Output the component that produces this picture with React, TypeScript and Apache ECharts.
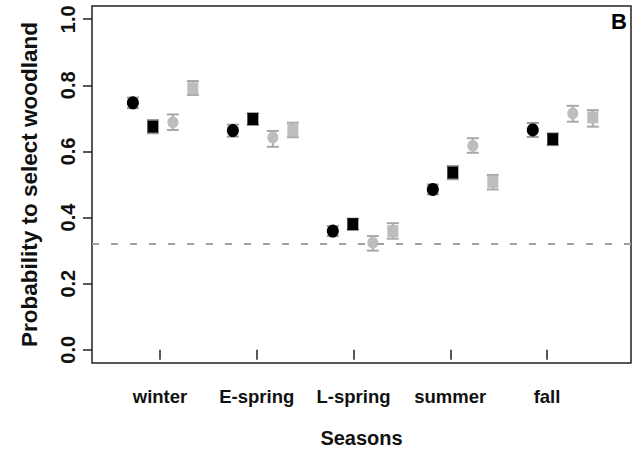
import React, { useEffect, useRef } from "react";
import * as echarts from "echarts";

const seasons = ["winter", "E-spring", "L-spring", "summer", "fall"];
const tickValues = [1, 2, 3, 4, 5];
const yTickValues = [0, 0.2, 0.4, 0.6, 0.8, 1.0];

// four groups per season: black circle, black square, grey circle, grey square
const blackCircleMean = [0.747, 0.663, 0.359, 0.485, 0.665];
const blackCircleLow = [0.731, 0.645, 0.344, 0.47, 0.644];
const blackCircleHigh = [0.763, 0.681, 0.374, 0.5, 0.686];

const blackSquareMean = [0.675, 0.698, 0.38, 0.536, 0.637];
const blackSquareLow = [0.655, 0.68, 0.363, 0.516, 0.619];
const blackSquareHigh = [0.695, 0.716, 0.397, 0.556, 0.655];

const greyCircleMean = [0.688, 0.642, 0.324, 0.617, 0.715];
const greyCircleLow = [0.665, 0.614, 0.3, 0.596, 0.69];
const greyCircleHigh = [0.712, 0.662, 0.344, 0.64, 0.738];

const greySquareMean = [0.791, 0.665, 0.359, 0.508, 0.703];
const greySquareLow = [0.771, 0.643, 0.336, 0.485, 0.675];
const greySquareHigh = [0.813, 0.687, 0.383, 0.529, 0.725];

const threshold = 0.317;

const groupOffsets = [-0.3, -0.1, 0.1, 0.3];

const FONT = "Liberation Sans, Arial, Helvetica, sans-serif";

export default function App() {
  const ref = useRef<HTMLDivElement>(null);

  useEffect(() => {
    document.body.style.margin = "0";
    if (!ref.current) return;
    const chart = echarts.init(ref.current, undefined, { renderer: "svg" });

    const groups = [
      { mean: blackCircleMean, low: blackCircleLow, high: blackCircleHigh, symbol: "circle", size: [12, 13], color: "#000000", cap: "#9a9a9a" },
      { mean: blackSquareMean, low: blackSquareLow, high: blackSquareHigh, symbol: "rect", size: [11, 12], color: "#000000", cap: "#9a9a9a" },
      { mean: greyCircleMean, low: greyCircleLow, high: greyCircleHigh, symbol: "circle", size: [11, 12], color: "#bdbdbd", cap: "#a8a8a8" },
      { mean: greySquareMean, low: greySquareLow, high: greySquareHigh, symbol: "rect", size: [11, 12], color: "#bdbdbd", cap: "#a8a8a8" },
    ];

    const series: any[] = [];
    groups.forEach((g, gi) => {
      const errData = seasons.map((_, i) => [i + 1 + groupOffsets[gi], g.low[i], g.high[i]]);
      series.push({
        type: "custom",
        xAxisIndex: 1,
        yAxisIndex: 0,
        z: 2,
        silent: true,
        data: errData,
        renderItem: (params: any, api: any) => {
          const x = api.value(0);
          const p1 = api.coord([x, api.value(1)]);
          const p2 = api.coord([x, api.value(2)]);
          const hw = 6;
          const style = { stroke: g.cap, lineWidth: 2 };
          return {
            type: "group",
            children: [
              { type: "line", shape: { x1: p1[0], y1: p1[1], x2: p2[0], y2: p2[1] }, style },
              { type: "line", shape: { x1: p1[0] - hw, y1: p1[1], x2: p1[0] + hw, y2: p1[1] }, style },
              { type: "line", shape: { x1: p2[0] - hw, y1: p2[1], x2: p2[0] + hw, y2: p2[1] }, style },
            ],
          };
        },
      });
    });
    groups.forEach((g, gi) => {
      const s: any = {
        type: "scatter",
        xAxisIndex: 1,
        yAxisIndex: 0,
        z: 3,
        symbol: g.symbol,
        symbolSize: g.size,
        itemStyle: { color: g.color, opacity: 1 },
        data: seasons.map((_, i) => [i + 1 + groupOffsets[gi], g.mean[i]]),
      };
      if (gi === 0) {
        s.markLine = {
          silent: true,
          symbol: ["none", "none"],
          label: { show: false },
          lineStyle: { type: [7, 12], color: "#a0a0a0", width: 2.2, opacity: 1 },
          data: [{ yAxis: threshold }],
        };
      }
      series.push(s);
    });

    chart.setOption({
      animation: false,
      backgroundColor: "#ffffff",
      textStyle: { fontFamily: FONT },
      grid: {
        left: 92,
        right: 9,
        top: 6,
        bottom: 94,
        show: true,
        borderColor: "#222222",
        borderWidth: 1.5,
        containLabel: false,
        outerBoundsMode: "none",
      },
      xAxis: [
        {
          type: "value",
          min: 0.2972,
          max: 5.868,
          position: "bottom",
          name: "Seasons",
          nameLocation: "middle",
          nameGap: 65,
          nameTextStyle: { fontSize: 20, fontWeight: "bold", color: "#111", fontFamily: FONT },
          axisLine: { show: false },
          splitLine: { show: false },
          axisTick: { show: true, length: 10, customValues: tickValues, lineStyle: { color: "#222", width: 1.5 } },
          axisLabel: {
            customValues: tickValues,
            margin: 24,
            fontSize: 18.5,
            fontWeight: "bold",
            color: "#111",
            fontFamily: FONT,
            formatter: (v: number) => seasons[Math.round(v) - 1] ?? "",
          },
        },
        {
          type: "value",
          min: 0.291,
          max: 5.6825,
          show: false,
          splitLine: { show: false },
        },
      ],
      yAxis: [
        {
          type: "value",
          min: -0.04,
          max: 1.04,
          name: "Probability to select woodland",
          nameLocation: "middle",
          nameGap: 51,
          nameTextStyle: { fontSize: 22.5, fontWeight: "bold", color: "#111", fontFamily: FONT },
          axisLine: { show: false },
          splitLine: { show: false },
          axisTick: { show: true, length: 9, customValues: yTickValues, lineStyle: { color: "#222", width: 1.5 } },
          axisLabel: {
            customValues: yTickValues,
            rotate: 90,
            margin: 14,
            fontSize: 20,
            fontWeight: "bold",
            color: "#111",
            fontFamily: FONT,
            formatter: (v: number) => v.toFixed(1),
          },
        },
      ],
      graphic: [
        {
          type: "text",
          right: 13,
          top: 10,
          style: { text: "B", fontSize: 22, fontWeight: "bold", fill: "#000", fontFamily: FONT },
        },
      ],
      series,
    });

    return () => chart.dispose();
  }, []);

  return <div ref={ref} style={{ width: 640, height: 457 }} />;
}
